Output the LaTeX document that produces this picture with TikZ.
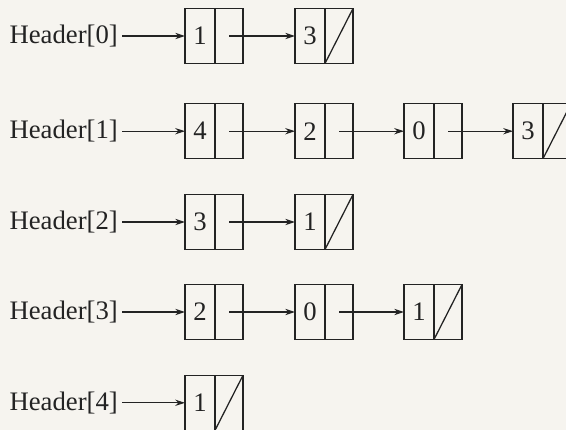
\documentclass[tikz,border=0pt]{standalone}
\usepackage{fontspec}
\setmainfont{Liberation Serif}
\usetikzlibrary{arrows.meta, positioning}
\definecolor{PG}{RGB}{246,244,239}
\definecolor{INK}{RGB}{35,35,35}

\begin{document}
\begin{tikzpicture}[
  hdr/.style={anchor=east, inner xsep=3pt, inner ysep=0pt, outer sep=0pt,
              font=\fontsize{19}{20}\selectfont, text=INK},
  val/.style={draw=INK, line width=1pt, minimum width=0.75cm,
              minimum height=1.375cm, inner sep=0pt, outer sep=0pt,
              anchor=west, font=\fontsize{19}{20}\selectfont, text=INK},
  nxt/.style={draw=INK, line width=1pt, minimum width=0.7cm,
              minimum height=1.375cm, inner sep=0pt, outer sep=0pt,
              right=0pt of #1},
  arr/.style={-{Stealth[length=7pt, width=4.5pt]}, line width=0.75pt, draw=INK},
  nil/.style={draw=INK, line width=0.9pt}
]
% page
\fill[PG] (0,0) rectangle (14.15,-10.75);
\clip (0,0) rectangle (14.15,-10.75);

% Header[0]
\node[hdr] (h0) at (3.05,-0.9) {Header[0]};
\node[val] (v00) at (4.625,-0.9) {1};
\node[nxt=v00] (p00) {};
\node[val] (v01) at (7.375,-0.9) {3};
\node[nxt=v01] (p01) {};

% Header[1]
\node[hdr] (h1) at (3.05,-3.28) {Header[1]};
\node[val] (v10) at (4.625,-3.28) {4};
\node[nxt=v10] (p10) {};
\node[val] (v11) at (7.375,-3.28) {2};
\node[nxt=v11] (p11) {};
\node[val] (v12) at (10.1,-3.28) {0};
\node[nxt=v12] (p12) {};
\node[val] (v13) at (12.825,-3.28) {3};
\node[nxt=v13] (p13) {};

% Header[2]
\node[hdr] (h2) at (3.05,-5.55) {Header[2]};
\node[val] (v20) at (4.625,-5.55) {3};
\node[nxt=v20] (p20) {};
\node[val] (v21) at (7.375,-5.55) {1};
\node[nxt=v21] (p21) {};

% Header[3]
\node[hdr] (h3) at (3.05,-7.8) {Header[3]};
\node[val] (v30) at (4.625,-7.8) {2};
\node[nxt=v30] (p30) {};
\node[val] (v31) at (7.375,-7.8) {0};
\node[nxt=v31] (p31) {};
\node[val] (v32) at (10.1,-7.8) {1};
\node[nxt=v32] (p32) {};

% Header[4]
\node[hdr] (h4) at (3.05,-10.07) {Header[4]};
\node[val] (v40) at (4.625,-10.07) {1};
\node[nxt=v40] (p40) {};

% Arrows
\draw[arr] (h0.east) -- (v00.west);
\draw[arr] (p00.center) -- (v01.west);
\draw[arr] (h1.east) -- (v10.west);
\draw[arr] (p10.center) -- (v11.west);
\draw[arr] (p11.center) -- (v12.west);
\draw[arr] (p12.center) -- (v13.west);
\draw[arr] (h2.east) -- (v20.west);
\draw[arr] (p20.center) -- (v21.west);
\draw[arr] (h3.east) -- (v30.west);
\draw[arr] (p30.center) -- (v31.west);
\draw[arr] (p31.center) -- (v32.west);
\draw[arr] (h4.east) -- (v40.west);

% null links
\draw[nil] (p01.south west) -- (p01.north east);
\draw[nil] (p13.south west) -- (p13.north east);
\draw[nil] (p21.south west) -- (p21.north east);
\draw[nil] (p32.south west) -- (p32.north east);
\draw[nil] (p40.south west) -- (p40.north east);
\end{tikzpicture}
\end{document}
